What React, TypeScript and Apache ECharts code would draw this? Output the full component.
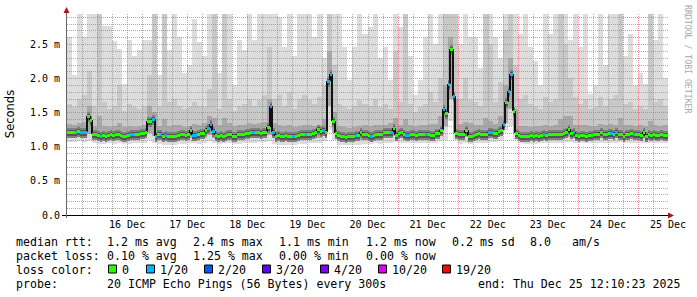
import React, { useEffect, useRef } from 'react';
import * as echarts from 'echarts';

// ---------- axes ----------
const startHour = 12; // hours since 15 Dec 00:00 (15 Dec 12:00)
const endHour = 252; // 25 Dec 12:00
const dayLabelHours = [36, 60, 84, 108, 132, 156, 180, 204, 228, 252];
const dayLabels = ['16 Dec', '17 Dec', '18 Dec', '19 Dec', '20 Dec', '21 Dec', '22 Dec', '23 Dec', '24 Dec', '25 Dec'];
const yMax = 2.94;
const yTickValues = [0, 0.5, 1.0, 1.5, 2.0, 2.5];
const yTickLabels = ['0.0', '0.5 m', '1.0 m', '1.5 m', '2.0 m', '2.5 m'];

// ---------- median rtt (ms), hourly from 15 Dec 12:00 ----------
const medianRtt = [
  1.21, 1.22, 1.21, 1.21, 1.23, 1.21, 1.21, 1.21, 1.45, 1.39, 1.19, 1.18,
  1.17, 1.16, 1.17, 1.16, 1.17, 1.18, 1.17, 1.19, 1.18, 1.17, 1.16, 1.15, 1.17, 1.19, 1.19, 1.18, 1.19, 1.20, 1.20, 1.21, 1.38, 1.38, 1.41, 1.16,
  1.19, 1.18, 1.16, 1.17, 1.16, 1.15, 1.15, 1.16, 1.17, 1.18, 1.18, 1.17, 1.19, 1.24, 1.17, 1.17, 1.19, 1.20, 1.20, 1.25, 1.27, 1.33, 1.23, 1.17,
  1.16, 1.17, 1.16, 1.17, 1.18, 1.18, 1.15, 1.16, 1.19, 1.19, 1.19, 1.20, 1.20, 1.22, 1.21, 1.21, 1.21, 1.20, 1.21, 1.22, 1.28, 1.59, 1.21, 1.15,
  1.17, 1.15, 1.16, 1.17, 1.16, 1.16, 1.16, 1.16, 1.17, 1.19, 1.19, 1.18, 1.19, 1.19, 1.20, 1.21, 1.26, 1.23, 1.25, 1.22, 1.96, 2.06, 1.37, 1.20,
  1.17, 1.15, 1.15, 1.14, 1.15, 1.15, 1.16, 1.17, 1.17, 1.21, 1.19, 1.18, 1.17, 1.16, 1.17, 1.18, 1.18, 1.19, 1.21, 1.22, 1.21, 1.22, 1.27, 1.17,
  1.20, 1.21, 1.18, 1.17, 1.17, 1.18, 1.18, 1.17, 1.18, 1.18, 1.18, 1.19, 1.18, 1.17, 1.17, 1.20, 1.20, 1.25, 1.55, 1.49, 1.92, 2.43, 1.74, 1.20,
  1.18, 1.19, 1.19, 1.24, 1.15, 1.15, 1.17, 1.19, 1.20, 1.18, 1.19, 1.19, 1.22, 1.22, 1.20, 1.20, 1.23, 1.24, 1.33, 1.65, 1.81, 2.06, 1.52, 1.20,
  1.17, 1.16, 1.15, 1.16, 1.16, 1.17, 1.16, 1.17, 1.16, 1.17, 1.18, 1.17, 1.18, 1.19, 1.18, 1.19, 1.18, 1.19, 1.20, 1.22, 1.26, 1.20, 1.21, 1.17,
  1.16, 1.17, 1.17, 1.16, 1.17, 1.17, 1.18, 1.18, 1.19, 1.22, 1.19, 1.19, 1.20, 1.20, 1.19, 1.21, 1.19, 1.19, 1.16, 1.18, 1.19, 1.20, 1.19, 1.18,
  1.19, 1.17, 1.21, 1.16, 1.19, 1.17, 1.18, 1.17, 1.17, 1.18, 1.17, 1.17,
];

// loss bucket per hour (index into lossColors)
const lossLevel = [
  0, 0, 0, 1, 0, 1, 1, 1, 0, 0, 0, 0,
  0, 1, 0, 0, 0, 0, 0, 0, 0, 0, 0, 0, 0, 1, 1, 0, 0, 0, 0, 0, 0, 0, 1, 1,
  0, 1, 0, 1, 0, 0, 0, 0, 0, 0, 0, 0, 0, 0, 1, 1, 0, 0, 0, 0, 1, 1, 1, 0,
  0, 0, 0, 0, 0, 0, 0, 0, 0, 0, 0, 0, 0, 0, 1, 0, 0, 0, 0, 0, 0, 1, 1, 0,
  0, 0, 0, 0, 0, 0, 1, 0, 0, 0, 0, 1, 0, 0, 0, 0, 0, 0, 1, 0, 1, 1, 0, 0,
  0, 0, 0, 0, 0, 0, 0, 1, 0, 0, 0, 0, 0, 1, 0, 0, 0, 0, 0, 0, 0, 1, 0, 0,
  0, 0, 0, 1, 1, 0, 0, 0, 0, 0, 0, 1, 0, 0, 0, 0, 0, 0, 1, 0, 1, 0, 1, 0,
  0, 0, 0, 0, 0, 0, 0, 0, 0, 0, 0, 0, 1, 1, 0, 0, 0, 0, 1, 0, 1, 1, 0, 0,
  0, 0, 0, 0, 0, 0, 0, 0, 0, 0, 1, 0, 0, 0, 0, 0, 0, 0, 0, 0, 0, 0, 1, 0,
  0, 0, 0, 0, 0, 0, 0, 0, 0, 0, 0, 0, 0, 1, 0, 1, 0, 0, 0, 0, 0, 0, 1, 0,
  0, 0, 0, 0, 0, 0, 0, 0, 0, 0, 0, 0,
];

// ---------- smoke (distribution of the 20 pings), 2-hourly ----------
const smokeMin = [
  1.07, 1.07, 1.08, 1.07, 1.08, 1.05, 1.04, 1.04, 1.05, 1.04, 1.05, 1.04, 1.04, 1.05, 1.05, 1.05, 1.10, 1.06, 1.04, 1.03,
  1.03, 1.03, 1.04, 1.04, 1.05, 1.05, 1.04, 1.06, 1.08, 1.05, 1.04, 1.05, 1.05, 1.04, 1.04, 1.05, 1.06, 1.06, 1.07, 1.07,
  1.08, 1.04, 1.03, 1.03, 1.03, 1.03, 1.04, 1.04, 1.05, 1.05, 1.06, 1.08, 1.25, 1.10, 1.03, 1.02, 1.02, 1.03, 1.03, 1.04,
  1.04, 1.05, 1.04, 1.05, 1.06, 1.07, 1.05, 1.05, 1.05, 1.05, 1.05, 1.05, 1.06, 1.06, 1.08, 1.10, 1.38, 1.10, 1.04, 1.06,
  1.04, 1.05, 1.06, 1.06, 1.07, 1.07, 1.08, 1.25, 1.30, 1.10, 1.05, 1.04, 1.04, 1.04, 1.05, 1.05, 1.05, 1.06, 1.06, 1.07,
  1.07, 1.05, 1.05, 1.05, 1.05, 1.05, 1.06, 1.06, 1.06, 1.06, 1.07, 1.05, 1.05, 1.06, 1.06, 1.05, 1.05, 1.05, 1.05, 1.05,
];
const smokeP25 = [
  1.15, 1.15, 1.16, 1.15, 1.18, 1.13, 1.12, 1.12, 1.12, 1.12, 1.12, 1.11, 1.12, 1.12, 1.12, 1.13, 1.20, 1.15, 1.11, 1.11,
  1.10, 1.10, 1.11, 1.12, 1.12, 1.12, 1.11, 1.13, 1.17, 1.12, 1.11, 1.12, 1.12, 1.10, 1.11, 1.12, 1.13, 1.13, 1.14, 1.14,
  1.17, 1.12, 1.10, 1.10, 1.10, 1.10, 1.10, 1.11, 1.12, 1.12, 1.13, 1.15, 1.60, 1.20, 1.10, 1.09, 1.09, 1.10, 1.10, 1.11,
  1.11, 1.12, 1.11, 1.12, 1.13, 1.15, 1.13, 1.12, 1.12, 1.12, 1.12, 1.12, 1.13, 1.13, 1.15, 1.30, 1.70, 1.20, 1.12, 1.14,
  1.11, 1.12, 1.13, 1.13, 1.14, 1.14, 1.16, 1.35, 1.55, 1.20, 1.12, 1.11, 1.11, 1.11, 1.12, 1.12, 1.12, 1.13, 1.13, 1.14,
  1.14, 1.12, 1.12, 1.12, 1.12, 1.12, 1.13, 1.13, 1.13, 1.13, 1.14, 1.12, 1.12, 1.13, 1.13, 1.12, 1.12, 1.12, 1.12, 1.12,
];
const smokeP75 = [
  1.33, 1.32, 1.34, 1.36, 1.60, 1.30, 1.45, 1.30, 1.29, 1.30, 1.34, 1.28, 1.30, 1.29, 1.30, 1.31, 1.60, 1.50, 1.30, 1.40,
  1.30, 1.32, 1.31, 1.29, 1.30, 1.33, 1.32, 1.34, 1.45, 1.42, 1.32, 1.42, 1.34, 1.30, 1.31, 1.32, 1.34, 1.33, 1.34, 1.36,
  1.70, 1.34, 1.32, 1.30, 1.32, 1.29, 1.30, 1.32, 1.31, 1.30, 1.32, 1.40, 2.40, 1.50, 1.30, 1.28, 1.27, 1.28, 1.30, 1.31,
  1.30, 1.32, 1.31, 1.32, 1.35, 1.42, 1.32, 1.40, 1.31, 1.30, 1.31, 1.32, 1.33, 1.33, 1.45, 1.90, 2.60, 1.70, 1.33, 1.36,
  1.34, 1.32, 1.31, 1.42, 1.38, 1.33, 1.45, 1.90, 2.30, 1.55, 1.30, 1.30, 1.29, 1.30, 1.30, 1.31, 1.30, 1.32, 1.40, 1.45,
  1.45, 1.32, 1.31, 1.32, 1.30, 1.30, 1.33, 1.32, 1.33, 1.32, 1.42, 1.31, 1.32, 1.30, 1.31, 1.30, 1.38, 1.31, 1.30, 1.31,
];
const smokeP90 = [
  1.62, 1.58, 1.70, 1.75, 2.10, 1.60, 2.94, 1.65, 1.55, 1.60, 1.90, 1.52, 1.62, 1.58, 1.55, 1.60, 2.05, 2.94, 1.60, 2.94,
  1.65, 1.70, 1.60, 1.55, 1.58, 1.66, 1.60, 1.58, 1.85, 2.94, 1.55, 2.94, 1.70, 1.52, 1.60, 1.62, 1.70, 1.60, 1.68, 1.75,
  2.45, 1.70, 1.75, 1.60, 1.80, 1.55, 1.70, 1.75, 1.68, 1.62, 1.72, 1.90, 2.94, 2.20, 1.62, 1.58, 1.55, 1.60, 1.68, 1.62,
  1.60, 1.70, 1.58, 1.62, 1.55, 2.40, 1.66, 2.94, 1.62, 1.50, 1.58, 1.62, 1.80, 1.66, 2.00, 2.94, 2.94, 2.94, 1.70, 2.00,
  1.68, 1.65, 1.60, 2.94, 2.50, 1.66, 1.95, 2.70, 2.94, 2.20, 1.70, 1.75, 1.62, 1.60, 1.55, 1.72, 1.66, 1.70, 2.94, 2.50,
  2.00, 1.72, 1.62, 1.70, 1.55, 1.58, 1.72, 1.60, 1.70, 1.75, 2.94, 1.62, 1.66, 1.55, 1.60, 1.55, 2.94, 1.65, 1.70, 1.60,
];
const smokeMax = [
  2.60, 2.05, 2.94, 2.60, 2.94, 2.94, 2.94, 2.77, 2.77, 2.55, 2.43, 1.92, 2.56, 2.32, 2.42, 2.56, 2.56, 2.94, 2.05, 2.94,
  2.42, 2.94, 2.60, 2.08, 2.20, 2.87, 2.53, 2.32, 2.94, 2.94, 2.08, 2.94, 2.94, 1.90, 2.56, 2.42, 2.94, 2.56, 2.94, 2.94,
  2.94, 2.94, 2.90, 2.45, 2.94, 2.32, 2.94, 2.94, 2.94, 2.60, 2.94, 2.30, 2.94, 2.94, 2.94, 2.45, 1.97, 2.45, 2.94, 2.65,
  2.75, 2.94, 2.30, 2.45, 1.97, 2.94, 2.75, 2.94, 2.32, 1.75, 1.97, 2.60, 2.94, 2.50, 2.94, 2.94, 2.94, 2.94, 2.50, 2.94,
  2.60, 2.60, 2.15, 2.94, 2.94, 2.60, 2.30, 2.94, 2.94, 2.94, 2.65, 2.94, 2.45, 2.25, 1.90, 2.94, 2.65, 2.94, 2.94, 2.94,
  2.56, 2.94, 2.45, 2.94, 1.77, 1.90, 2.94, 2.20, 2.94, 2.94, 2.94, 2.32, 2.65, 1.90, 2.08, 1.92, 2.94, 2.56, 2.94, 2.00,
];

// ---------- legend ----------
const lossColors = ['#26ff00', '#00b8ff', '#0059ff', '#5e00ff', '#7e00ff', '#dd00ff', '#ff0000'];
const lossLabels = ['0', '1/20', '2/20', '3/20', '4/20', '10/20', '19/20'];
const medianStats = ['1.2 ms avg', '2.4 ms max', '1.1 ms min', '1.2 ms now', '0.2 ms sd', '8.0', 'am/s'];
const lossStats = ['0.10 % avg', '1.25 % max', '0.00 % min', '0.00 % now'];
const probeText = '20 ICMP Echo Pings (56 Bytes) every 300s';
const endText = 'end: Thu Dec 25 12:10:23 2025';

// layout (pixels)
const GRID = { left: 67, right: 29, top: 14, bottom: 82 };
const MONO = '"DejaVu Sans Mono", "Liberation Mono", monospace';
const statX = [107, 193, 279, 366, 452, 530, 572];
const boxX = [108, 146, 204, 262, 320, 378, 442];
const lineY = [241.5, 255.5, 269.5, 283.5];

// dotted line drawn as 1x1 squares (one path per line)
const DotLine = echarts.graphic.extendShape({
  shape: { x1: 0, y1: 0, x2: 0, y2: 0 },
  buildPath(ctx: any, shape: any) {
    if (shape.y1 === shape.y2) {
      for (let x = shape.x1; x < shape.x2; x += 2) ctx.rect(x, shape.y1, 1, 1);
    } else {
      for (let y = shape.y1; y < shape.y2; y += 2) ctx.rect(shape.x1, y, 1, 1);
    }
  },
});
echarts.graphic.registerShape('dotLine', DotLine);

function App() {
  const ref = useRef<HTMLDivElement>(null);
  useEffect(() => {
    if (!ref.current) return;
    const chart = echarts.init(ref.current, null, { renderer: 'svg' });

    const smokeData = smokeMin.map((v, k) => [startHour + 2 * k, v, smokeP25[k], smokeP75[k], smokeP90[k], smokeMax[k]]);
    const medData = medianRtt.map((v, j) => [startHour + j, v, j + 1 < medianRtt.length ? medianRtt[j + 1] : null, lossLevel[j]]);

    // grid line positions (axis values)
    const vGrid: number[][] = [];
    for (let h = startHour + 6; h < endHour; h += 6) vGrid.push([h, 0.5, h % 24 === 0 ? 1 : 0]);
    const hGrid: number[][] = [];
    for (let i = 1; i <= 29; i++) hGrid.push([startHour + 1, i / 10, i % 5 === 0 ? 1 : 0]);

    const MINOR = 'rgba(143,143,143,0.75)';
    const MAJOR = 'rgba(222,79,79,0.6)';

    const smokeRender = (params: any, api: any) => {
      const t = api.value(0);
      const xa = Math.round(api.coord([t, 0])[0]);
      const xb = Math.round(api.coord([t + 2, 0])[0]);
      const Y = (i: number) => Math.round(api.coord([t, api.value(i)])[1]);
      const band = (lo: number, hi: number, fill: string) => {
        const y1 = Y(hi);
        const y2 = Y(lo);
        return { type: 'rect', shape: { x: xa, y: y1, width: xb - xa, height: Math.max(0, y2 - y1) }, style: { fill } };
      };
      return {
        type: 'group',
        children: [band(1, 5, '#dddddd'), band(2, 4, '#c8c8c8'), band(2, 3, '#a8a8a8')],
      };
    };

    const haloRender = (params: any, api: any) => {
      const t = api.value(0);
      const v = api.value(1);
      const p = api.coord([t, v]);
      const xa = Math.round(p[0]);
      const xb = Math.round(api.coord([t + 1, v])[0]);
      const y = Math.round(p[1]);
      return {
        type: 'group',
        children: [
          { type: 'rect', shape: { x: xa, y: y - 4, width: xb - xa, height: 10 }, style: { fill: '#808080' } },
          { type: 'rect', shape: { x: xa, y: y - 2, width: xb - xa, height: 6 }, style: { fill: '#555555' } },
        ],
      };
    };

    const medRender = (params: any, api: any) => {
      const t = api.value(0);
      const v = api.value(1);
      const vn = api.value(2);
      const loss = api.value(3);
      const p = api.coord([t, v]);
      const xa = Math.round(p[0]);
      const xb = Math.round(api.coord([t + 1, v])[0]);
      const y = Math.round(p[1]);
      const children: any[] = [];
      if (vn != null && !isNaN(vn)) {
        const yn = Math.round(api.coord([t + 1, vn])[1]);
        if (Math.abs(yn - y) > 1) {
          children.push({
            type: 'rect',
            shape: { x: xb - 1, y: Math.min(y, yn), width: 2, height: Math.abs(yn - y) },
            style: { fill: '#111111' },
          });
        }
      }
      children.push({
        type: 'rect',
        shape: { x: xa, y: y - 1, width: xb - xa, height: 3 },
        style: { fill: lossColors[loss] },
      });
      return { type: 'group', children };
    };

    const vGridRender = (params: any, api: any) => {
      const cs = params.coordSys;
      const x = Math.round(api.coord([api.value(0), 0])[0]);
      const major = api.value(2) === 1;
      return {
        type: 'dotLine',
        shape: { x1: x, y1: cs.y, x2: x, y2: cs.y + cs.height },
        style: { fill: major ? MAJOR : MINOR, stroke: null },
      };
    };
    const hGridRender = (params: any, api: any) => {
      const cs = params.coordSys;
      const y = Math.round(api.coord([startHour, api.value(1)])[1]);
      const major = api.value(2) === 1;
      return {
        type: 'dotLine',
        shape: { x1: cs.x, y1: y, x2: cs.x + cs.width, y2: y },
        style: { fill: major ? MAJOR : MINOR, stroke: null },
      };
    };

    const textStyle = (text: string, x: number, y: number) => ({
      type: 'text',
      x,
      y,
      style: {
        text,
        fill: '#000',
        fontFamily: MONO,
        fontSize: 11.6,
        align: 'left',
        verticalAlign: 'middle',
      },
      z: 100,
    });

    const graphics: any[] = [];
    // axes
    graphics.push({ type: 'rect', shape: { x: 62, y: 215, width: 607, height: 1 }, style: { fill: '#000' }, z: 100 });
    graphics.push({ type: 'rect', shape: { x: 66, y: 11, width: 1, height: 207 }, style: { fill: '#666' }, z: 100 });
    graphics.push({ type: 'polygon', shape: { points: [[66.5, 7], [63.5, 13], [69.5, 13]] }, style: { fill: '#a01818' }, z: 101 });
    graphics.push({ type: 'polygon', shape: { points: [[674, 215.5], [668, 212.5], [668, 218.5]] }, style: { fill: '#a01818' }, z: 101 });
    // titles
    graphics.push({
      type: 'text', x: 10, y: 114, rotation: Math.PI / 2,
      style: { text: 'Seconds', fill: '#000', fontFamily: '"DejaVu Sans", sans-serif', fontSize: 11.5, align: 'center', verticalAlign: 'middle' },
      z: 100,
    });
    graphics.push({
      type: 'text', x: 688, y: 5, rotation: -Math.PI / 2,
      style: { text: 'RRDTOOL / TOBI OETIKER', fill: '#a8a8a8', fontFamily: MONO, fontSize: 8.2, align: 'left', verticalAlign: 'middle' },
      z: 100,
    });
    // legend lines
    graphics.push(textStyle('median rtt:', 16, lineY[0]));
    medianStats.forEach((s, i) => graphics.push(textStyle(s, statX[i], lineY[0])));
    graphics.push(textStyle('packet loss:', 16, lineY[1]));
    lossStats.forEach((s, i) => graphics.push(textStyle(s, statX[i], lineY[1])));
    graphics.push(textStyle('loss color:', 16, lineY[2]));
    lossColors.forEach((c, i) => {
      graphics.push({
        type: 'rect',
        shape: { x: boxX[i] + 0.5, y: lineY[2] - 4.5, width: 8, height: 8 },
        style: { fill: c, stroke: '#000', lineWidth: 1 },
        z: 100,
      });
      graphics.push(textStyle(lossLabels[i], boxX[i] + 14, lineY[2]));
    });
    graphics.push(textStyle('probe:', 16, lineY[3]));
    graphics.push(textStyle(probeText, 107, lineY[3]));
    graphics.push(textStyle(endText, 478, lineY[3]));

    chart.setOption({
      animation: false,
      backgroundColor: '#ffffff',
      grid: { left: GRID.left, right: GRID.right, top: GRID.top, bottom: GRID.bottom, containLabel: false },
      xAxis: {
        type: 'value',
        min: startHour,
        max: endHour,
        interval: 24,
        axisLine: { show: false },
        axisTick: { show: false },
        splitLine: { show: false },
        axisLabel: {
          margin: 4,
          color: '#000',
          fontFamily: MONO,
          fontSize: 10,
          showMinLabel: false,
          showMaxLabel: true,
          formatter: (v: number) => {
            const i = dayLabelHours.findIndex((h) => Math.abs(h - v) < 0.01);
            return i >= 0 ? dayLabels[i] : '';
          },
        },
      },
      yAxis: {
        type: 'value',
        min: 0,
        max: yMax,
        interval: 0.5,
        axisLine: { show: false },
        axisTick: { show: false },
        splitLine: { show: false },
        axisLabel: {
          margin: 7,
          color: '#000',
          fontFamily: MONO,
          fontSize: 10,
          showMaxLabel: false,
          formatter: (v: number) => {
            const i = yTickValues.findIndex((t) => Math.abs(t - v) < 0.001);
            return i >= 0 ? yTickLabels[i] : '';
          },
        },
      },
      graphic: graphics,
      series: [
        { type: 'custom', name: 'smoke', renderItem: smokeRender, data: smokeData, encode: { x: 0, y: [1, 5] }, z: 1, silent: true },
        { type: 'custom', name: 'vgrid', renderItem: vGridRender, data: vGrid, encode: { x: 0, y: 1 }, z: 2, silent: true },
        { type: 'custom', name: 'hgrid', renderItem: hGridRender, data: hGrid, encode: { x: 0, y: 1 }, z: 2, silent: true },
        { type: 'custom', name: 'core', renderItem: haloRender, data: medData, encode: { x: 0, y: 1 }, z: 3, silent: true },
        { type: 'custom', name: 'median', renderItem: medRender, data: medData, encode: { x: 0, y: 1 }, z: 4, silent: true },
      ],
    });
    return () => chart.dispose();
  }, []);
  return <div ref={ref} style={{ position: 'fixed', left: 0, top: 0, width: 697, height: 297, background: '#fff' }} />;
}

export default App;
